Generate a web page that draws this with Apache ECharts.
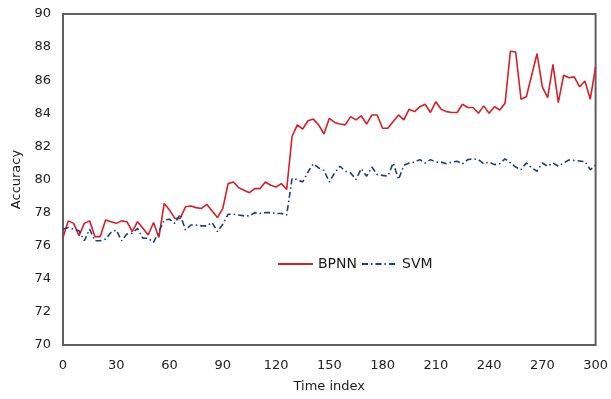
<!DOCTYPE html>
<html>
<head>
<meta charset="utf-8">
<script src="https://cdn.jsdelivr.net/npm/echarts@6/dist/echarts.min.js"></script>
<style>
html,body{margin:0;padding:0;background:#fff;}
#chart{width:611px;height:399px;}
</style>
</head>
<body>
<div id="chart"></div>
<script>
// Time index (x values)
const timeIndex = [0,3,6,9,12,15,18,21,24,27,30,33,36,39,42,45,48,51,54,57,60,63,66,69,72,75,78,81,84,87,90,93,96,99,102,105,108,111,114,117,120,123,126,129,132,135,138,141,144,147,150,153,156,159,162,165,168,171,174,177,180,183,186,189,192,195,198,201,204,207,210,213,216,219,222,225,228,231,234,237,240,243,246,249,252,255,258,261,264,267,270,273,276,279,282,285,288,291,294,297,300];

// BPNN accuracy
const bpnn = [76.5,77.5,77.35,76.6,77.35,77.5,76.55,76.55,77.55,77.45,77.35,77.5,77.45,76.85,77.45,77.05,76.65,77.4,76.5,78.55,78.15,77.65,77.65,78.35,78.4,78.3,78.25,78.5,78.1,77.7,78.25,79.75,79.85,79.5,79.35,79.2,79.45,79.45,79.85,79.65,79.55,79.75,79.4,82.6,83.3,83.05,83.55,83.65,83.3,82.75,83.7,83.45,83.35,83.3,83.8,83.6,83.85,83.35,83.9,83.9,83.1,83.1,83.5,83.9,83.6,84.25,84.1,84.4,84.55,84.05,84.7,84.25,84.1,84.05,84.05,84.55,84.35,84.35,84.0,84.45,84.0,84.4,84.2,84.6,87.75,87.7,84.85,85.0,86.3,87.6,85.6,84.95,86.95,84.65,86.3,86.15,86.2,85.6,85.95,84.85,86.8];

// SVM accuracy
const svm = [77.0,77.1,77.0,76.9,76.3,77.0,76.3,76.3,76.4,76.8,76.95,76.3,76.7,76.75,77.05,76.45,76.45,76.2,76.85,77.55,77.6,77.35,77.9,76.95,77.25,77.25,77.2,77.2,77.4,76.85,77.3,77.9,77.9,77.85,77.8,77.8,78.0,77.95,78.0,78.0,77.95,77.95,77.85,80.05,80.0,79.85,80.45,80.95,80.7,80.55,79.85,80.4,80.8,80.5,80.4,80.0,80.65,80.2,80.75,80.3,80.25,80.2,81.0,80.0,80.85,81.0,81.05,81.2,81.0,81.2,81.05,81.05,80.95,81.05,81.1,80.95,81.2,81.25,81.2,80.95,81.05,80.9,80.95,81.25,81.0,80.75,80.6,81.0,80.7,80.5,81.0,80.8,81.0,80.8,81.0,81.18,81.15,81.12,81.08,80.6,80.85];

const xTicks = [0,30,60,90,120,150,180,210,240,270,300];

const FONT = 'DejaVu Sans';
const chart = echarts.init(document.getElementById('chart'), null, {renderer:'canvas'});
chart.setOption({
  animation: false,
  backgroundColor: '#ffffff',
  grid: {left: 63, right: 14, top: 14, bottom: 54, show: true, borderColor: '#5f5f5f', borderWidth: 2, backgroundColor: 'transparent'},
  legend: {
    left: 272, top: 252, itemWidth: 35, itemHeight: 14, itemGap: 4,
    itemStyle: {opacity: 0, borderWidth: 0},
    textStyle: {fontFamily: FONT, fontSize: 14, color: '#1a1a1a'},
    data: ['BPNN', 'SVM']
  },
  xAxis: {
    type: 'value', min: xTicks[0], max: xTicks[xTicks.length-1], interval: 30,
    name: 'Time index', nameLocation: 'middle', nameGap: 35,
    nameTextStyle: {fontFamily: FONT, fontSize: 13, color: '#1a1a1a'},
    axisLine: {show: false}, axisTick: {show: false}, splitLine: {show: false},
    axisLabel: {fontFamily: FONT, fontSize: 13, color: '#222', margin: 14}
  },
  yAxis: {
    type: 'value', min: 70, max: 90, interval: 2,
    name: 'Accuracy', nameLocation: 'middle', nameGap: 40,
    nameTextStyle: {fontFamily: FONT, fontSize: 13, color: '#1a1a1a'},
    axisLine: {show: false}, axisTick: {show: false}, splitLine: {show: false},
    axisLabel: {fontFamily: FONT, fontSize: 13, color: '#222', margin: 12}
  },
  series: [
    {
      name: 'BPNN', type: 'line', showSymbol: false, symbol: 'none',
      data: timeIndex.map((t, i) => [t, bpnn[i]]),
      lineStyle: {color: '#d3202a', width: 1.6},
      itemStyle: {color: '#d3202a'}
    },
    {
      name: 'SVM', type: 'line', showSymbol: false, symbol: 'none',
      data: timeIndex.map((t, i) => [t, svm[i]]),
      lineStyle: {color: '#1f3d7a', width: 1.6, type: [6, 3, 1.5, 3]},
      itemStyle: {color: '#1f3d7a'}
    }
  ]
});
</script>
</body>
</html>
